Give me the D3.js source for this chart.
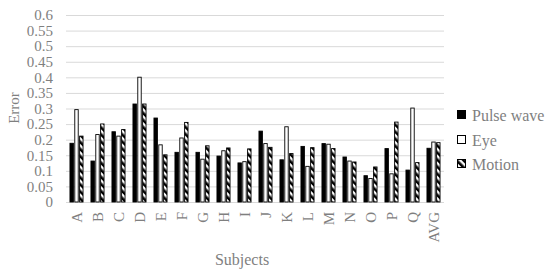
<!DOCTYPE html>
<html>
<head>
<meta charset="utf-8">
<script src="https://cdn.jsdelivr.net/npm/d3@7"></script>
<style>
  html, body { margin: 0; padding: 0; background: #fff; }
  svg { display: block; }
  text { font-family: "Liberation Serif", "DejaVu Serif", serif; fill: #7f7f7f; }
</style>
</head>
<body>
<svg id="chart" width="550" height="275"></svg>
<script>
const categories = ["A","B","C","D","E","F","G","H","I","J","K","L","M","N","O","P","Q","AVG"];
const seriesNames = ["Pulse wave", "Eye", "Motion"];
const pulseWave = [0.190,0.133,0.227,0.316,0.271,0.161,0.161,0.149,0.127,0.229,0.137,0.180,0.189,0.146,0.086,0.173,0.104,0.174];
const eye       = [0.298,0.218,0.213,0.402,0.185,0.207,0.139,0.166,0.131,0.189,0.243,0.116,0.187,0.133,0.077,0.092,0.303,0.194];
const motion    = [0.213,0.252,0.234,0.316,0.153,0.257,0.182,0.175,0.172,0.177,0.157,0.176,0.173,0.130,0.114,0.258,0.128,0.192];
const yTicks = [0,0.05,0.1,0.15,0.2,0.25,0.3,0.35,0.4,0.45,0.5,0.55,0.6];

const FONT = '"Liberation Serif", "DejaVu Serif", serif';
const svg = d3.select("#chart");
const mLeft = 66, mRight = 444, mTop = 15, mBottom = 202;

const defs = svg.append("defs");
const pat = defs.append("pattern")
  .attr("id", "stripes").attr("patternUnits", "userSpaceOnUse")
  .attr("width", 5).attr("height", 5)
  .attr("patternTransform", "rotate(-45)");
pat.append("rect").attr("width", 5).attr("height", 5).attr("fill", "#fff");
pat.append("rect").attr("x", 0).attr("y", 0).attr("width", 2.6).attr("height", 5).attr("fill", "#000");

const x = d3.scaleBand().domain(categories).range([mLeft, mRight]).paddingInner(0.33).paddingOuter(0.165);
const xs = d3.scaleBand().domain(seriesNames).range([0, x.bandwidth()]).paddingInner(0.08);
const y = d3.scaleLinear().domain([0, 0.6]).range([mBottom, mTop]);

// gridlines
svg.append("g").selectAll("line").data(yTicks).join("line")
  .attr("x1", mLeft).attr("x2", mRight)
  .attr("y1", d => y(d) + 0.5).attr("y2", d => y(d) + 0.5)
  .attr("stroke", "#d9d9d9").attr("stroke-width", 1);

// y axis labels
const yAxis = d3.axisLeft(y).tickValues(yTicks).tickSize(0).tickPadding(0)
  .tickFormat(d => d3.format("")(+d.toFixed(2)));
const yg = svg.append("g").attr("transform", `translate(${mLeft - 13},0)`).call(yAxis);
yg.select(".domain").remove();
yg.selectAll("text").style("font-size", "15px").attr("fill", "#7f7f7f").style("font-family", FONT);

// bars
const fills = ["#000", "#fff", "url(#stripes)"];
const data = [pulseWave, eye, motion];
seriesNames.forEach((s, si) => {
  svg.append("g").selectAll("rect").data(categories).join("rect")
    .attr("x", c => x(c) + xs(s) + 0.5)
    .attr("y", (c, i) => y(data[si][i]) + 0.5)
    .attr("width", xs.bandwidth() - 1)
    .attr("height", (c, i) => y(0) - y(data[si][i]) - 0.5)
    .attr("fill", fills[si])
    .attr("stroke", "#000").attr("stroke-width", 0.9);
});

// x axis labels
const xAxis = d3.axisBottom(x).tickSize(0).tickPadding(0);
const xg = svg.append("g").attr("transform", `translate(0,${mBottom})`).call(xAxis);
xg.select(".domain").remove();
xg.selectAll("text")
  .attr("transform", "rotate(-90)")
  .attr("text-anchor", "end")
  .attr("x", -10).attr("y", 0).attr("dy", "0.35em")
  .style("font-size", "15px").attr("fill", "#7f7f7f").style("font-family", FONT);

// axis titles
svg.append("text").attr("transform", "translate(19,108) rotate(-90)")
  .attr("text-anchor", "middle").style("font-size", "15px").style("font-family", FONT)
  .attr("fill", "#7f7f7f").text("Error");
svg.append("text").attr("x", 242).attr("y", 265)
  .attr("text-anchor", "middle").style("font-size", "16px").style("font-family", FONT)
  .attr("fill", "#7f7f7f").text("Subjects");

// legend
const lg = svg.append("g").attr("transform", "translate(457,0)");
const ly = [115, 140, 164];
seriesNames.forEach((s, i) => {
  lg.append("rect").attr("x", 0.5).attr("y", ly[i] - 4.5).attr("width", 8).attr("height", 8)
    .attr("fill", fills[i]).attr("stroke", "#000").attr("stroke-width", 1);
  lg.append("text").attr("x", 15).attr("y", ly[i]).attr("dy", "0.35em")
    .style("font-size", "16px").style("font-family", FONT).attr("fill", "#7f7f7f").text(s);
});
</script>
</body>
</html>
